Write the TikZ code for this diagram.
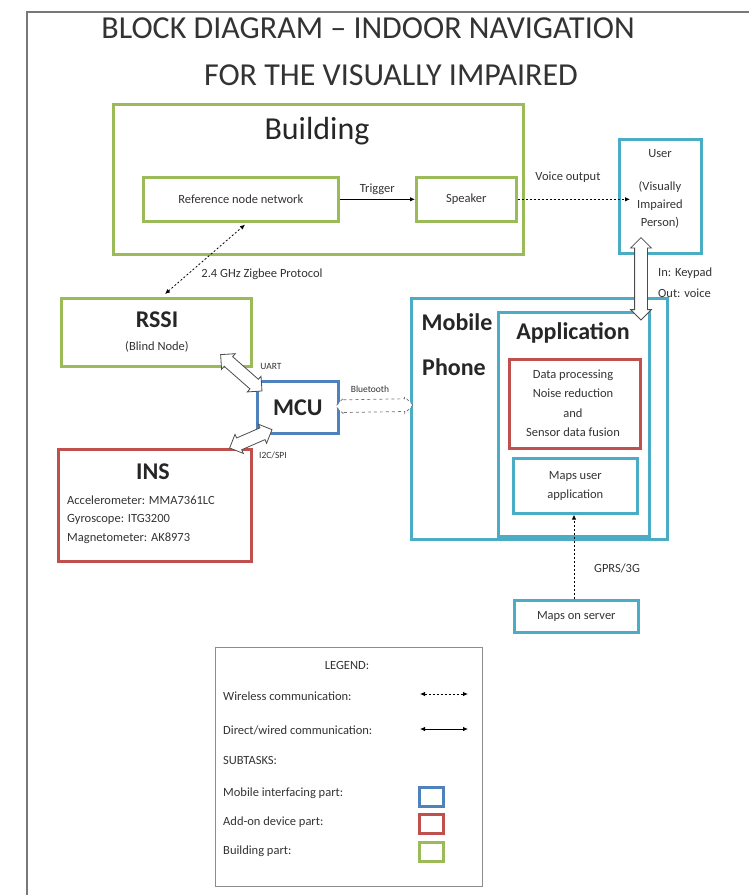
\documentclass[tikz,border=0pt]{standalone}
\usepackage{fontspec}
\setmainfont{Carlito}
\usetikzlibrary{shapes.arrows,arrows.meta,calc}
\definecolor{bgreen}{RGB}{155,187,89}
\definecolor{bred}{RGB}{192,80,77}
\definecolor{bblue}{RGB}{79,129,189}
\definecolor{bcyan}{RGB}{75,172,198}
\definecolor{framegray}{RGB}{120,120,120}
\tikzset{
  box/.style={draw, line width=2.6pt, anchor=north west, inner sep=0pt},
  gbox/.style={box, draw=bgreen},
  rbox/.style={box, draw=bred},
  bbox/.style={box, draw=bblue},
  cbox/.style={box, draw=bcyan},
  lbl/.style={font=\fontsize{12.5}{15}\selectfont, inner sep=1pt, text=black!80},
  tiny/.style={font=\fontsize{9.5}{11}\selectfont, inner sep=1pt, text=black!80},
  big/.style={font=\fontsize{24}{28}\selectfont\bfseries, inner sep=1pt, text=black!85},
  ttl/.style={font=\fontsize{32}{36}\selectfont, inner sep=1pt, text=black!80},
  wire/.style={line width=0.8pt, dash pattern=on 2pt off 2pt},
  tip/.style={-{Latex[length=5pt,width=4.5pt]}},
  harrow/.style={double arrow, draw=black!70, fill=white, line width=0.8pt,
    inner xsep=0pt, inner ysep=6pt, minimum width=0pt,
    double arrow head extend=4pt, anchor=center},
}
\newcommand\hollowarrow[4]{%
  \path let \p1=(#2), \p2=(#3), \n1={atan2(\y2-\y1,\x2-\x1)},
    \n2={veclen(\x2-\x1,\y2-\y1)} in
    node[harrow,#4,rotate=\n1,minimum height=\n2] (#1) at ($(#2)!0.5!(#3)$) {};}
\begin{document}
\begin{tikzpicture}[x=1pt,y=-1pt]
\useasboundingbox (0,0) rectangle (748,895);
\draw[framegray, line width=1.2pt] (27,900) -- (27,12) -- (752,12);

% titles
\node[ttl] (title1) at (368,28) {BLOCK DIAGRAM – INDOOR NAVIGATION};
\node[ttl] (title2) at (391,75) {FOR THE VISUALLY IMPAIRED};

% building
\node[gbox, minimum width=410pt, minimum height=150pt] (building) at (112,103) {};
\node[font=\fontsize{32}{36}\selectfont, text=black!85] (buildingtxt) at (317,131) {Building};
\node[gbox, minimum width=195pt, minimum height=44pt] (ref) at (142,176) {};
\node[lbl] (reftxt) at (ref.center) {Reference node network};
\node[gbox, minimum width=100pt, minimum height=44pt] (speaker) at (415,176) {};
\node[lbl] (speakertxt) at (speaker.center) {Speaker};

% user
\node[cbox, minimum width=82pt, minimum height=114pt] (user) at (618,138) {};
\node[lbl] (usertxt) at (660,154) {User};
\node[lbl, align=center, font=\fontsize{12.5}{18}\selectfont] (usertxt2) at (660,205) {(Visually\\Impaired\\Person)};

% RSSI
\node[gbox, minimum width=190pt, minimum height=68pt] (rssi) at (60,297) {};
\node[big] (rssitxt) at (157,320) {RSSI};
\node[lbl] (rssitxt2) at (157,347) {(Blind Node)};

% MCU
\node[bbox, minimum width=81pt, minimum height=52pt] (mcu) at (256,380) {};
\node[big] (mcutxt) at (mcu.center) {MCU};

% INS
\node[rbox, minimum width=193pt, minimum height=112pt] (ins) at (57,448) {};
\node[big] (instxt) at (153,472) {INS};
\node[lbl, anchor=west] (acc) at (66,500) {Accelerometer: MMA7361LC};
\node[lbl, anchor=west] (gyr) at (66,519) {Gyroscope: ITG3200};
\node[lbl, anchor=west] (mag) at (66,538) {Magnetometer: AK8973};

% Mobile phone
\node[cbox, minimum width=256pt, minimum height=241pt] (mobile) at (410,297) {};
\node[big] (mobiletxt) at (457,322) {Mobile};
\node[big] (phonetxt) at (454,367) {Phone};
\node[cbox, minimum width=151pt, minimum height=224pt] (app) at (497,311) {};
\node[big] (apptxt) at (573,333) {Application};
\node[rbox, minimum width=131pt, minimum height=89pt] (dp) at (508,358) {};
\node[lbl, align=center, font=\fontsize{12.5}{19.5}\selectfont] (dptxt) at (573,403) {Data processing\\Noise reduction\\and\\Sensor data fusion};
\node[cbox, minimum width=124pt, minimum height=55pt] (mapsuser) at (512,457) {};
\node[lbl, align=center, font=\fontsize{12.5}{19}\selectfont] (mapsusertxt) at (mapsuser.center) {Maps user\\application};
\node[cbox, minimum width=124pt, minimum height=32pt] (server) at (513,599) {};
\node[lbl] (servertxt) at (server.center) {Maps on server};

% connectors
\draw[line width=0.9pt, tip] (ref.east) -- (speaker.west) node[lbl, midway, above=3pt] (trig) {Trigger};
\coordinate (voiceend) at ($(user.west)+(12,-8)$);
\draw[wire, tip] (speaker.east) -- (speaker.east -| voiceend) coordinate (vend);
\node[lbl] (voicetxt) at (568,177) {Voice output};
\coordinate (zA) at ($(rssi.north west)+(105,-3)$);
\coordinate (zB) at ($(ref.south west)+(103,2)$);
\draw[wire, {Latex[length=5pt,width=4.5pt]}-{Latex[length=5pt,width=4.5pt]}] (zA) -- (zB);
\node[lbl] (zigtxt) at (262,274) {2.4 GHz Zigbee Protocol};
\coordinate (gA) at ($(server.north west)+(61,0)$);
\draw[wire, tip] (gA) -- (gA |- mapsuser.south);
\node[lbl] (gprstxt) at (617,568) {GPRS/3G};

% hollow arrows
\coordinate (uA) at ($(rssi.south east)+(-32,-13)$);
\coordinate (uB) at ($(mcu.north west)+(6,11)$);
\hollowarrow{uart}{uA}{uB}{}
\node[tiny] (uarttxt) at (271,366) {UART};
\coordinate (iA) at ($(ins.north east)+(-23,0)$);
\coordinate (iB) at ($(mcu.south west)+(16,-5)$);
\hollowarrow{i2c}{iA}{iB}{}
\node[tiny] (i2ctxt) at (273,455) {I2C/SPI};
\coordinate (bA) at ($(mcu.east)+(-4,-1)$);
\coordinate (bB) at ($(mobile.north west)+(3,108)$);
\hollowarrow{bt}{bA}{bB}{dashed, draw=black!55, double arrow head extend=2pt, line width=0.7pt}
\node[tiny] (bttxt) at (370,389) {Bluetooth};
\coordinate (kA) at ($(user.south west)+(23,-17)$);
\coordinate (kB) at ($(app.north west)+(144,9)$);
\hollowarrow{keyarrow}{kA}{kB}{}
\node[lbl, anchor=west] (kin) at (657,273) {In: Keypad};
\node[lbl, anchor=west] (kout) at (657,293) {Out: voice};

% legend
\node[box, draw=black!45, line width=1pt, minimum width=267pt, minimum height=239pt] (legend) at (215,647) {};
\node[lbl] (legtitle) at (347,665) {LEGEND:};
\node[lbl, anchor=west] (lw) at (222,696) {Wireless communication:};
\coordinate (lwA) at (420,694);
\coordinate (lwB) at (468,694);
\draw[wire, {Latex[length=5pt,width=4.5pt]}-{Latex[length=5pt,width=4.5pt]}] (lwA) -- (lwB);
\node[lbl, anchor=west] (ld) at (222,730) {Direct/wired communication:};
\coordinate (ldA) at (420,729);
\coordinate (ldB) at (468,729);
\draw[line width=0.8pt, {Latex[length=5pt,width=4.5pt]}-{Latex[length=5pt,width=4.5pt]}] (ldA) -- (ldB);
\node[lbl, anchor=west] (ls) at (222,760) {SUBTASKS:};
\node[lbl, anchor=west] (lm) at (222,793) {Mobile interfacing part:};
\node[bbox, minimum width=24pt, minimum height=19pt] (lmb) at (418,786) {};
\node[lbl, anchor=west] (la) at (222,822) {Add-on device part:};
\node[rbox, minimum width=24pt, minimum height=19pt] (lab) at (418,813) {};
\node[lbl, anchor=west] (lb) at (222,851) {Building part:};
\node[gbox, minimum width=24pt, minimum height=19pt] (lbb) at (418,841) {};
\end{tikzpicture}
\end{document}
